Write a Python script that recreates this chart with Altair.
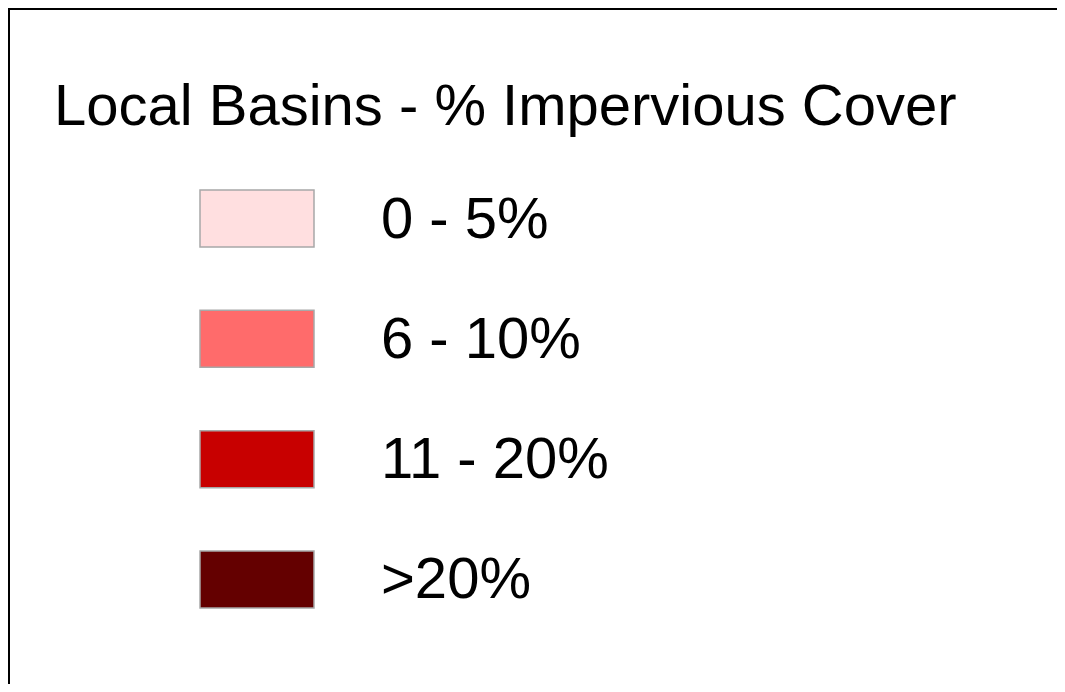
import altair as alt
import pandas as pd

TITLE = "Local Basins - % Impervious Cover"
categories = ["0 - 5%", "6 - 10%", "11 - 20%", ">20%"]
colors = ["#FFDFE0", "#FF6B6B", "#C80000", "#640000"]

W, H = 1049, 676
FONT = "Liberation Sans"
FS = 58

df = pd.DataFrame({"cat": categories, "color": colors})

yscale = alt.Scale(domain=categories, range=[182, 600], paddingInner=0.526, paddingOuter=0)

swatches = alt.Chart(df).mark_rect(stroke="#A8A8A8", strokeWidth=1.5).encode(
    x=alt.value(192),
    x2=alt.value(306),
    y=alt.Y("cat:N", scale=yscale, axis=None),
    color=alt.Color("cat:N", scale=alt.Scale(domain=categories, range=colors), legend=None),
)

labels = alt.Chart(df).mark_text(
    align="left", baseline="alphabetic", font=FONT, fontSize=FS, color="black", dy=19
).encode(
    x=alt.value(373),
    y=alt.Y("cat:N", scale=yscale, axis=None),
    text="cat:N",
)

title = alt.Chart(pd.DataFrame({"t": [TITLE]})).mark_text(
    align="left", baseline="alphabetic", font=FONT, fontSize=FS, color="black"
).encode(x=alt.value(46), y=alt.value(117), text="t:N")

left_line = alt.Chart(pd.DataFrame({"a": [0]})).mark_rule(color="black", strokeWidth=2).encode(
    x=alt.value(1), y=alt.value(0), y2=alt.value(H)
)
top_line = alt.Chart(pd.DataFrame({"a": [0]})).mark_rule(color="black", strokeWidth=2).encode(
    x=alt.value(0), x2=alt.value(W), y=alt.value(1)
)

chart = alt.layer(left_line, top_line, swatches, labels, title).properties(
    width=W, height=H, autosize=alt.AutoSizeParams(type="none"), padding=0
).configure_view(stroke=None)

chart.save("out.html", embed_options={"renderer": "svg", "actions": False})
